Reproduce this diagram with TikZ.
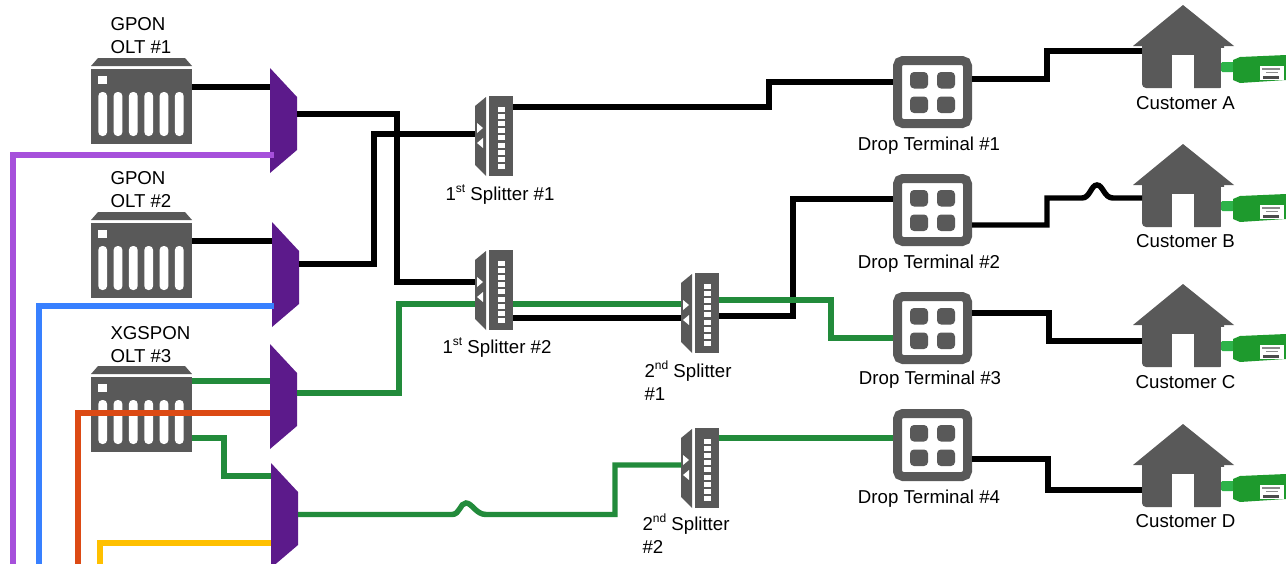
\documentclass[tikz,border=0pt]{standalone}
\usepackage{fontspec}
\setmainfont{Liberation Sans}
\usetikzlibrary{calc}
\definecolor{icon}{HTML}{595959}
\definecolor{muxc}{HTML}{5C1A8B}
\definecolor{gr}{HTML}{228B3B}
\definecolor{pu}{HTML}{A650DB}
\definecolor{bl}{HTML}{3880FF}
\definecolor{re}{HTML}{DC4A14}
\definecolor{ye}{HTML}{FFC000}
\definecolor{devg}{HTML}{1E9A2D}
\definecolor{capg}{HTML}{2DB34A}
\newcommand{\supr}[1]{\smash{\raisebox{0.42em}{\fontsize{9}{9}\selectfont #1}}}
\tikzset{
  oltbody/.style={fill=icon,inner sep=0pt,outer sep=0pt,minimum width=75.75pt,minimum height=56.25pt},
  invis/.style={inner sep=0pt,outer sep=0pt},
  termbox/.style={draw=icon,fill=white,line width=6.75pt,rounded corners=4pt,inner sep=0pt,outer sep=3.375pt,minimum width=52.5pt,minimum height=47.25pt},
  wire/.style={line width=4.1pt,line join=miter,line cap=butt},
  thick wire/.style={line width=4.6pt,line join=miter,line cap=butt},
  lbl/.style={font=\fontsize{14}{17.25}\selectfont,text=black,inner sep=0pt,outer sep=0pt},
  lblL/.style={lbl,align=left,anchor=west},
}
\newcommand{\oltunit}[2]{%
\begin{scope}[shift={(0,#2)}]
  \fill[icon] (91,66) -- (98,58) -- (185,58) -- (192,66) -- cycle;
  \node[oltbody] (#1) at (141.5,106.5) {};
  \fill[white] (98,76) rectangle (106.5,84);
  \foreach \sx in {102.7,118,133.3,148.7,164,179.3}
    \fill[white,rounded corners=3pt] (\sx-4.4,92) rectangle (\sx+4.4,136);
\end{scope}}
\newcommand{\muxunit}[3]{%
\begin{scope}[shift={(#2,#3)}]
  \fill[muxc] (0,0) -- (27,29) -- (27,82) -- (0,105) -- cycle;
  \node[invis,minimum width=20.25pt,minimum height=78.75pt] (#1) at (13.5,52.5) {};
\end{scope}}
\newcommand{\splitunit}[3]{%
\begin{scope}[shift={(#2,#3)}]
  \fill[icon] (475,106) -- (486,97) -- (486,176) -- (475,165) -- cycle;
  \fill[icon] (489,96) rectangle (513,176);
  \foreach \k in {0,...,8}
    \fill[white] (498,106.5+\k*7.2) rectangle (504.5,111.5+\k*7.2);
  \fill[white] (477,123) -- (483,128) -- (477,133) -- cycle;
  \fill[white] (483,138) -- (477,143) -- (483,148) -- cycle;
  \node[invis,minimum width=28.5pt,minimum height=60pt] (#1) at (494,136) {};
\end{scope}}
\newcommand{\termunit}[2]{%
\begin{scope}[shift={(0,#2)}]
  \node[termbox] (#1) at (932.5,92) {};
  \foreach \ax/\ay in {910/72,937/72,910/96.5,937/96.5}
    \fill[icon,rounded corners=3pt] (\ax,\ay) rectangle (\ax+18,\ay+16.5);
\end{scope}}
\newcommand{\houseunit}[2]{%
\begin{scope}[shift={(0,#2)}]
  \fill[icon,rounded corners=3pt] (1142,40) -- (1142,88) -- (1224,88) -- (1224,40) -- cycle;
  \fill[icon] (1133,46) -- (1183,5) -- (1234,46) -- cycle;
  \fill[white] (1172,55) rectangle (1194,88.5);
  \node[invis,minimum width=61.5pt,minimum height=62.25pt] (#1) at (1183,46.5) {};
  \fill[white] (1221,48) rectangle (1232,88);
  \fill[capg,rounded corners=1pt] (1221,62) rectangle (1234,72);
  \fill[devg] (1233,60) -- (1240,57) -- (1286,55) -- (1286,80) -- (1240,83) -- (1233,80) -- cycle;
  \fill[white] (1260,66) rectangle (1284,80);
  \fill[black!70] (1263,76) rectangle (1279,78.5);
  \fill[black!45] (1262,68) rectangle (1280,69.5);
  \fill[black!45] (1266,71.5) rectangle (1278,73);
\end{scope}}
\begin{document}
\begin{tikzpicture}[x=0.75pt,y=-0.75pt]
\path[use as bounding box,clip] (0,0) rectangle (1286,564);
\oltunit{o1}{0}
\oltunit{o2}{154}
\oltunit{o3}{308}
\muxunit{m1}{270}{68}
\muxunit{m2}{272}{222}
\muxunit{m3}{270}{344}
\muxunit{m4}{271}{463}
\splitunit{s1}{0}{0}
\splitunit{s2}{0}{154}
\splitunit{s3}{206}{177}
\splitunit{s4}{206}{332}
\termunit{t1}{0}
\termunit{t2}{118}
\termunit{t3}{236}
\termunit{t4}{353}
\houseunit{h1}{0}
\houseunit{h2}{139}
\houseunit{h3}{279}
\houseunit{h4}{419}
\coordinate (purpleEnd) at (13,564);
\coordinate (blueEnd) at (39,564);
\coordinate (redEnd) at (78,564);
\coordinate (yellowEnd) at (100,564);
% black wires
\draw[wire] ($(o1.east)+(0,-19.5)$) coordinate (p) -- (p -| m1.west);
\draw[wire] ($(o2.east)+(0,-19.5)$) coordinate (p) -- (p -| m2.west);
\draw[wire] ($(m1.east)+(0,-6.5)$) -| (397,282) -- ($(s2.west)+(0,-8)$);
\draw[wire] ($(m2.east)+(0,-10.5)$) -| (374,134) -- ($(s1.west)+(0,-2)$);
\draw[wire] ($(s1.east)+(0,-29)$) -| (769,82) -- ($(t1.west)+(0,-10)$);
\draw[wire] ($(t1.east)+(0,-13)$) -| (1047,51) -- ($(h1.west)+(0,4.5)$);
\draw[wire] ($(s2.east)+(0,28)$) -- ($(s3.west)+(0,5)$);
\draw[wire] ($(s3.east)+(0,3)$) -| (793,199) -- ($(t2.west)+(0,-11)$);
\draw[wire] ($(t2.east)+(0,15)$) -| (1047,198) -- (1082,198) .. controls (1090,198) and (1091,185) .. (1097,185) .. controls (1103,185) and (1104,198) .. (1113,198) -- ($(h2.west)+(0,12.5)$);
\draw[wire] ($(t3.east)+(0,-15)$) -| (1049,341) -- ($(h3.west)+(0,15.5)$);
\draw[wire] ($(t4.east)+(0,14)$) -| (1048,490) -- ($(h4.west)+(0,24.5)$);
% green wires
\draw[wire,gr] ($(o3.east)+(0,-33.5)$) coordinate (p) -- (p -| m3.west);
\draw[wire,gr] ($(m3.east)+(0,-3.5)$) -| (399,304) -- ($(s2.west)+(0,14)$);
\draw[wire,gr] ($(o3.east)+(0,23.5)$) -| (224,476) -- ($(m4.west)+(0,-39.5)$);
\draw[wire,gr] ($(m4.east)+(0,-1)$) -- (452,514.5) .. controls (460,514.5) and (460,503) .. (466,503) .. controls (472,503) and (476,514.5) .. (486,514.5) -- (615,514.5) -- (615,465) -- ($(s4.west)+(0,-3)$);
\draw[wire,gr] ($(s2.east)+(0,14)$) -- ($(s3.west)+(0,-9)$);
\draw[wire,gr] ($(s3.east)+(0,-13)$) -| (831,338) -- ($(t3.west)+(0,10)$);
\draw[wire,gr] ($(s4.east)+(0,-30)$) -- ($(t4.west)+(0,-7)$);
% coloured feeds
\draw[thick wire,pu] ($(m1.west)+(4,34.5)$) -| (purpleEnd);
\draw[thick wire,bl] ($(m2.west)+(2,31.5)$) -| (blueEnd);
\draw[thick wire,re] ($(m3.west)+(0,16.5)$) -| (redEnd);
\draw[thick wire,ye] ($(m4.west)+(0,27.5)$) -| (yellowEnd);
% labels
\node[lblL] (l1) at (110.5,36) {GPON\\OLT \#1};
\node[lblL] (l2) at (110.5,190) {GPON\\OLT \#2};
\node[lblL] (l3) at (110.5,345) {XGSPON\\OLT \#3};
\node[lbl] (l4) at (500,195.5) {1\supr{st} Splitter \#1};
\node[lbl] (l5) at (497,348.5) {1\supr{st} Splitter \#2};
\node[lblL] (l6) at (644.5,382.5) {2\supr{nd} Splitter\\\#1};
\node[lblL] (l7) at (642.5,535) {2\supr{nd} Splitter\\\#2};
\node[lbl] (l8) at (929,145.5) {Drop Terminal \#1};
\node[lbl] (l9) at (929,263.5) {Drop Terminal \#2};
\node[lbl] (l10) at (930,379.5) {Drop Terminal \#3};
\node[lbl] (l11) at (929,498.5) {Drop Terminal \#4};
\node[lbl] (l12) at (1185.5,103.5) {Customer A};
\node[lbl] (l13) at (1185.5,241.5) {Customer B};
\node[lbl] (l14) at (1185.5,382.5) {Customer C};
\node[lbl] (l15) at (1185.5,521.5) {Customer D};
\end{tikzpicture}
\end{document}
